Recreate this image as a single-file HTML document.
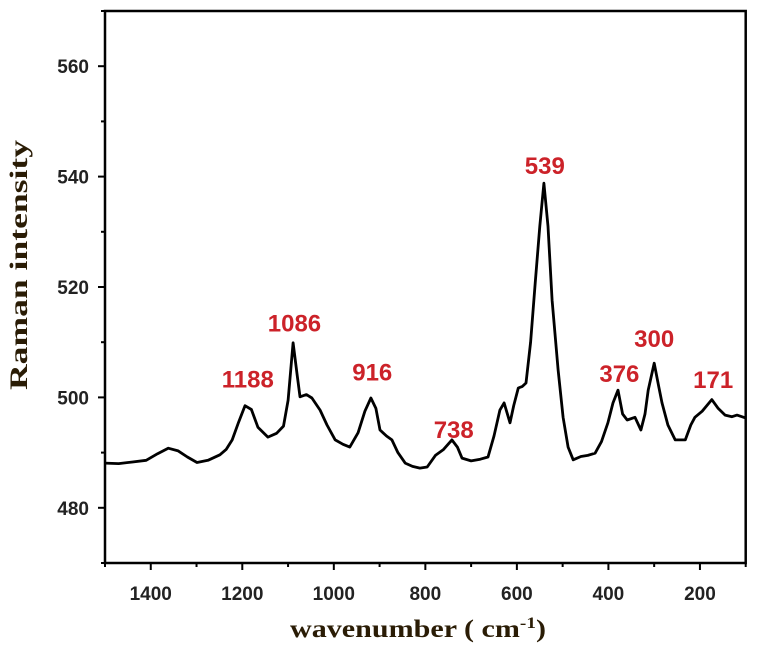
<!DOCTYPE html>
<html><head><meta charset="utf-8"><style>
html,body{margin:0;padding:0;background:#fff;}
svg{display:block;}
.tk{font-family:"Liberation Sans",sans-serif;font-weight:bold;font-size:19px;fill:#222;}
.pk{font-family:"Liberation Sans",sans-serif;font-weight:bold;font-size:24px;fill:#cc2229;}
.tt{font-family:"Liberation Serif",serif;font-weight:bold;font-size:25px;fill:#2a1c05;}
</style></head><body>
<svg id="chart" width="762" height="645" viewBox="0 0 762 645">
<g id="axes"></g>
<g id="series"></g>
<g id="labels"></g>
<text class="tt" x="290" y="637" textLength="256" lengthAdjust="spacingAndGlyphs">wavenumber ( cm<tspan dy="-9" font-size="16">-1</tspan><tspan dy="9">)</tspan></text>
<text class="tt" transform="translate(27,265) rotate(-90)" text-anchor="middle" textLength="250" lengthAdjust="spacingAndGlyphs">Raman intensity</text>
</svg>
<script>
const xTicks = [1400,1200,1000,800,600,400,200];
const yTicks = [480,500,520,540,560];
const waveNumbers = [1500,1470,1440,1410,1385,1362,1340,1320,1299,1275,1249,1235,1222,1208,1194,1180,1166,1144,1125,1110,1100,1089,1080,1074,1060,1048,1030,1015,997,980,965,947,932,919,908,899,885,873,860,844,828,812,796,778,761,742,730,720,700,680,663,650,637,628,615,607,597,588,580,570,560,550,541,532,523,510,499,488,477,460,445,429,415,401,390,379,369,359,342,329,320,313,300,290,283,270,254,232,220,211,195,174,160,145,130,119,101];
const intensities = [488.1,488.0,488.3,488.6,489.8,490.8,490.3,489.2,488.2,488.6,489.6,490.6,492.3,495.5,498.5,497.8,494.6,492.8,493.5,494.8,499.5,509.9,504.0,500.1,500.5,499.9,497.7,495.0,492.3,491.5,491.0,493.6,497.5,499.9,498.0,494.1,493.0,492.3,490.0,488.1,487.5,487.2,487.4,489.5,490.5,492.3,491.0,489.0,488.5,488.8,489.2,493.0,497.7,499.0,495.4,498.5,501.7,502.0,502.6,510.0,520.7,531.0,538.8,531.0,517.6,505.0,496.4,491.0,488.7,489.3,489.5,489.9,492.0,495.4,499.0,501.3,497.0,495.9,496.4,494.1,497.0,501.3,506.2,502.0,499.0,495.0,492.3,492.3,495.0,496.4,497.5,499.6,498.0,496.8,496.5,496.8,496.3];
const peakNames = ["1188","1086","916","738","539","376","300","171"];
const peakWn = [1188,1086,916,738,539,376,300,171];
const peakVal = [501.8,511.9,503.1,492.6,540.5,502.8,509.1,501.7];

const NS="http://www.w3.org/2000/svg";
const L=105,R=745.7,T=11,B=563;
const X0=1500,X1=100,Y0=470,Y1=570;
function sx(v){return L+(X0-v)/(X0-X1)*(R-L);}
function sy(v){return B-(v-Y0)/(Y1-Y0)*(B-T);}
function mk(tag,attrs,parent){const e=document.createElementNS(NS,tag);for(const k in attrs)e.setAttribute(k,attrs[k]);parent.appendChild(e);return e;}
const ax=document.getElementById('axes');
const frame=mk('rect',{x:L,y:T,width:R-L,height:B-T,fill:'none',stroke:'#000','stroke-width':2.5},ax);


for(let v=1500;v>=100;v-=100){
  const major=xTicks.includes(v);
  const t=mk('line',{x1:sx(v),x2:sx(v),y1:B,y2:B+(major?7:4),stroke:'#000','stroke-width':2},ax);
  
  
}
xTicks.forEach(v=>{
  const t=mk('text',{class:'tk',x:sx(v),y:600,'text-anchor':'middle'},ax);
  t.textContent=v;
  
  
});
for(let v=470;v<=570;v+=10){
  const major=yTicks.includes(v);
  const t=mk('line',{x1:L-(major?7:4),x2:L,y1:sy(v),y2:sy(v),stroke:'#000','stroke-width':2},ax);
  
  
}
yTicks.forEach(v=>{
  const t=mk('text',{class:'tk',x:89,y:sy(v)+7,'text-anchor':'end'},ax);
  t.textContent=v;
  
  
});
const pts=waveNumbers.map((w,i)=>sx(w).toFixed(1)+','+sy(intensities[i]).toFixed(1)).join(' ');
const pl=mk('polyline',{points:pts,fill:'none',stroke:'#000','stroke-width':2.8,'stroke-linejoin':'round'},document.getElementById('series'));


const lg=document.getElementById('labels');
peakNames.forEach((n,i)=>{
  const t=mk('text',{class:'pk',x:sx(peakWn[i]),y:sy(peakVal[i]),'text-anchor':'middle'},lg);
  t.textContent=n;
  
  
});
</script>
</body></html>
